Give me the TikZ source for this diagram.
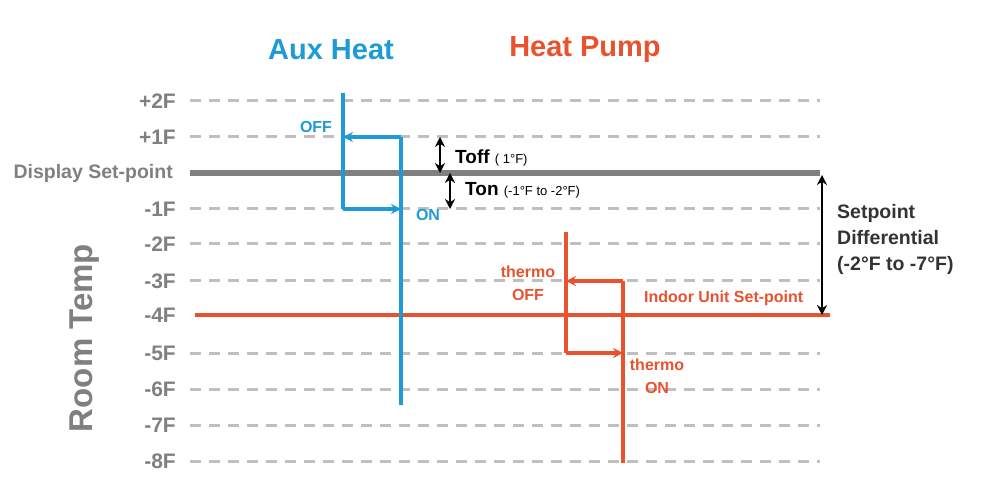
\documentclass[tikz,border=0pt]{standalone}
\usepackage{fontspec}
\setmainfont{Liberation Sans}
\usetikzlibrary{arrows.meta}
\definecolor{aux}{HTML}{1E9BD7}
\definecolor{hp}{HTML}{E9522F}
\definecolor{lab}{HTML}{808080}
\definecolor{grid}{HTML}{BFBFBF}
\begin{document}
\begin{tikzpicture}[x=1pt,y=-1pt,
  lvl/.style={font=\bfseries\fontsize{21}{24}\selectfont,text=lab,anchor=east,inner sep=0},
  gridl/.style={grid,line width=3pt,dash pattern=on 11pt off 8pt},
  auxl/.style={aux,line width=4pt},
  hpl/.style={hp,line width=4pt},
  tip/.style={-{Stealth[length=10pt,width=10pt]}},
  dbl/.style={black,line width=2.5pt,{Stealth[length=10pt,width=10pt]}-{Stealth[length=10pt,width=10pt]}}]
\useasboundingbox (0,0) rectangle (982,486);
% levels
\foreach \t/\y in {+2F/101,+1F/137,-1F/209,-2F/244,-3F/281,-5F/353,-6F/389,-7F/425,-8F/461}{
  \draw[gridl] (190,\y) -- (820,\y);
  \node[lvl] at (176,\y) {\t};}
\node[lvl] at (176,315) {-4F};
\draw[lab,line width=6pt] (190,173) -- (820,173);
\node[lvl,font=\bfseries\fontsize{19.5}{22}\selectfont] at (173,173) {Display Set-point};
\draw[hp,line width=4.5pt] (195,315) -- (830,315);
\node[font=\bfseries\fontsize{33}{36}\selectfont,text=lab,rotate=90] (rt) at (85,338) {Room Temp};
\node[font=\bfseries\fontsize{29}{32}\selectfont,text=aux] (ta) at (331,50) {Aux Heat};
\node[font=\bfseries\fontsize{29}{32}\selectfont,text=hp] (th) at (585,50) {Heat Pump};
% aux heat
\coordinate (a1) at (343,93); \coordinate (a2) at (343,209);
\coordinate (a3) at (401,137); \coordinate (a4) at (401,405);
\coordinate (a5) at (343,137);
\draw[auxl] (a1) -- (a2);
\draw[auxl] (a3) -- (a4);
\draw[auxl,tip] (a3) -- (a5);
\draw[auxl,tip] (a2) -- (a3 |- a2);
\node[font=\bfseries\fontsize{16}{19}\selectfont,text=aux] (off) at (316,127) {OFF};
\node[font=\bfseries\fontsize{16}{19}\selectfont,text=aux] (on) at (428,215) {ON};
% heat pump
\coordinate (h1) at (566,232); \coordinate (h2) at (566,353);
\coordinate (h3) at (623,281); \coordinate (h4) at (623,463);
\draw[hpl] (h1) -- (h2);
\draw[hpl] (h3) -- (h4);
\draw[hpl,tip] (h3) -- (h1 |- h3);
\draw[hpl,tip] (h2) -- (h3 |- h2);
\node[font=\bfseries\fontsize{16}{23}\selectfont,text=hp,align=center] (toff) at (528,283) {thermo\\OFF};
\node[font=\bfseries\fontsize{16}{23}\selectfont,text=hp,align=center] (ton) at (657,376) {thermo\\ON};
\node[font=\bfseries\fontsize{16}{19}\selectfont,text=hp,anchor=west,inner sep=0] (ius) at (644,298) {Indoor Unit Set-point};
% differentials
\coordinate (d1) at (440,137); \coordinate (d2) at (440,173);
\coordinate (d3) at (450,173); \coordinate (d4) at (450,209);
\coordinate (d5) at (822,175); \coordinate (d6) at (822,315);
\draw[dbl] (d1) -- (d2);
\draw[dbl] (d3) -- (d4);
\draw[dbl] (d5) -- (d6);
\node[anchor=west,inner sep=0] (lt) at (455,158) {\bfseries\fontsize{19}{22}\selectfont Toff \fontsize{13}{15}\selectfont\mdseries ( 1°F)};
\node[anchor=west,inner sep=0] (ln) at (465,190) {\bfseries\fontsize{19}{22}\selectfont Ton \fontsize{13}{15}\selectfont\mdseries (-1°F to -2°F)};
\node[anchor=west,align=left,inner sep=0,font=\bfseries\fontsize{19.5}{26}\selectfont,text=black!80] (sd) at (837,239) {Setpoint\\Differential\\(-2°F to -7°F)};
\end{tikzpicture}
\end{document}
